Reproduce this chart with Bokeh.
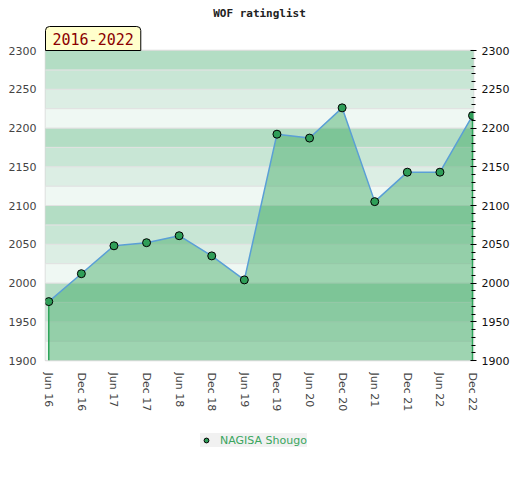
from bokeh.plotting import figure
from bokeh.models import Range1d, LinearAxis, FixedTicker, Legend, LegendItem, Title
from bokeh.layouts import column
from bokeh.embed import file_html
from bokeh.resources import INLINE

# ---- data ----
periods = ["Jun 16", "Dec 16", "Jun 17", "Dec 17", "Jun 18", "Dec 18", "Jun 19",
           "Dec 19", "Jun 20", "Dec 20", "Jun 21", "Dec 21", "Jun 22", "Dec 22"]
ratings = [1976, 2012, 2048, 2052, 2061, 2035, 2004,
           2192, 2187, 2226, 2105, 2143, 2143, 2216]
y_ticks = [1900, 1950, 2000, 2050, 2100, 2150, 2200, 2250, 2300]
player = "NAGISA Shougo"
title_text = "WOF ratinglist"
period_text = "2016-2022"

xs = list(range(len(periods)))
y_min, y_max = 1900, 2300

p = figure(frame_width=428, frame_height=310, output_backend="svg", toolbar_location=None,
           x_range=Range1d(-0.1, len(periods) - 1 + 0.03),
           y_range=Range1d(y_min, y_max),
           min_border_left=45, min_border_right=39, min_border_top=50,
           min_border_bottom=55, title=None)

p.outline_line_color = "#d6d6d6"
p.outline_line_width = 1.5
p.background_fill_color = "white"
p.xgrid.visible = False
p.ygrid.visible = False

# background bands every 25 units, 4-shade cycle
band_cols = ["#eff8f3", "#dceee4", "#c8e6d5", "#b3ddc4"]
bb, bt, bc = [], [], []
v = y_min
i = 0
while v < y_max:
    bb.append(v)
    bt.append(v + 25)
    bc.append(band_cols[i % 4])
    v += 25
    i += 1
p.quad(left=-1, right=len(periods) + 1, bottom=bb, top=bt, fill_color=bc,
       line_color="#e2e2e2", line_width=1)

# area + line + points
p.varea(x=xs, y1=[y_min] * len(xs), y2=ratings, fill_color="#3ca962", fill_alpha=0.45)
p.segment(x0=[xs[0], xs[-1]], y0=[y_min, y_min], x1=[xs[0], xs[-1]],
          y1=[ratings[0], ratings[-1]], line_color="#2ea55a", line_width=1.5)
p.line(xs, ratings, line_color="#5a9fd6", line_width=1.5)
p.scatter(xs, ratings, size=8, fill_color="#2f9e58", line_color="black", line_width=1)

# axes
p.yaxis.ticker = FixedTicker(ticks=y_ticks)
p.yaxis.axis_line_color = None
p.yaxis.major_tick_line_color = None
p.yaxis.minor_tick_line_color = None
p.yaxis.major_tick_out = 0
p.yaxis.major_label_text_font = "DejaVu Sans"
p.yaxis.major_label_text_font_size = "11px"
p.yaxis.major_label_text_color = "#444444"
p.yaxis.major_label_standoff = 9

ry = LinearAxis(ticker=FixedTicker(ticks=y_ticks,
                                   minor_ticks=list(range(y_min, y_max + 1, 10))))
ry.axis_line_color = None
ry.major_tick_in = 3
ry.major_tick_out = 3
ry.minor_tick_in = 2
ry.minor_tick_out = 2
ry.major_tick_line_color = "black"
ry.minor_tick_line_color = "black"
ry.major_label_text_font = "DejaVu Sans"
ry.major_label_text_font_size = "11px"
ry.major_label_text_color = "#111111"
ry.major_label_standoff = 5
p.add_layout(ry, "right")

p.xaxis.ticker = FixedTicker(ticks=xs)
p.xaxis.major_label_overrides = {i: s for i, s in zip(xs, periods)}
p.xaxis.major_label_orientation = "vertical"
p.xaxis.axis_line_color = None
p.xaxis.major_tick_line_color = None
p.xaxis.minor_tick_line_color = None
p.xaxis.major_tick_out = 0
p.xaxis.major_label_text_font = "DejaVu Sans"
p.xaxis.major_label_text_font_size = "11px"
p.xaxis.major_label_text_color = "#444444"
p.xaxis.major_label_standoff = 12

# period tag (boxed, left-aligned title right above the frame)
tag = Title(text=period_text, align="left", text_font="DejaVu Sans Mono",
            text_font_size="15px", text_font_style="normal", text_color="#8b0000",
            background_fill_color="#ffffcc", border_line_color="black",
            border_line_width=1, padding=[7, 6], standoff=0,
            border_radius=dict(top_left=4, top_right=4, bottom_right=0, bottom_left=0))
p.add_layout(tag, "above")

main_title = Title(text=title_text, align="center", text_font="DejaVu Sans Mono",
                   text_font_style="bold", text_font_size="11px", text_color="#222222",
                   standoff=9)
p.add_layout(main_title, "above")

# legend strip below the chart (its key glyph uses the same series, kept off-view)
lg = figure(width=512, height=50, output_backend="svg", toolbar_location=None,
            x_axis_type=None, y_axis_type=None, min_border=0,
            x_range=Range1d(0, 1), y_range=Range1d(0, 1))
lg.outline_line_color = None
lg.xgrid.visible = False
lg.ygrid.visible = False
key = lg.scatter(xs, ratings, size=8, fill_color="#2f9e58", line_color="black", line_width=1)
legend = Legend(items=[LegendItem(label=player, renderers=[key])],
                location=(155, 18), orientation="horizontal",
                background_fill_color="#f0f0f0", border_line_color=None,
                label_text_color="#3aa65e", label_text_font="DejaVu Sans",
                label_text_font_size="11px", glyph_width=12, glyph_height=14,
                label_standoff=8, padding=6, margin=0, label_height=14)
lg.add_layout(legend)

layout = column(p, lg, spacing=0)
open("out.html", "w").write(file_html(layout, INLINE))
